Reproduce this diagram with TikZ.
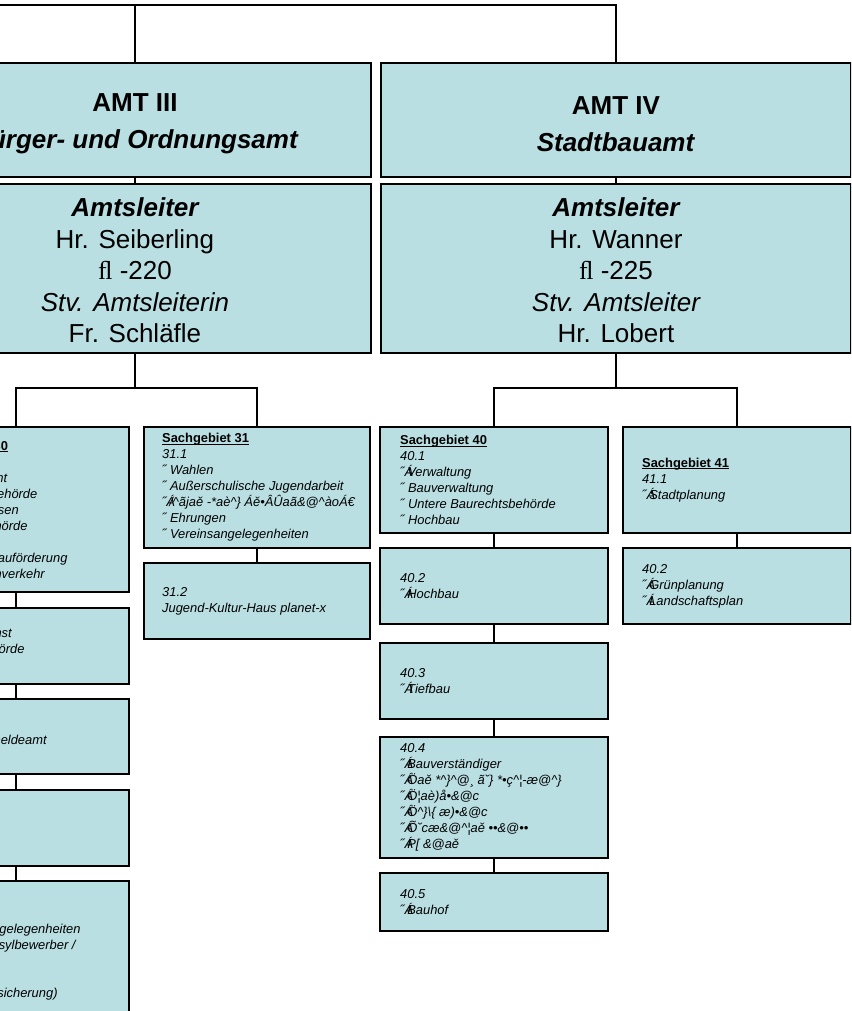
\documentclass[tikz,border=0pt]{standalone}
\usepackage{fontspec}
\setmainfont{Liberation Sans}
\newfontfamily\phonefont{Liberation Serif}
\definecolor{boxfill}{RGB}{186,223,226}
\newcommand\mybul{˝Á\kern-.45em\relax}
\newcommand\sghead[1]{{\upshape\bfseries\setbox0\hbox{#1}\rlap{\rule[-2.2pt]{\wd0}{1.1pt}}\box0}}
\begin{document}
\begin{tikzpicture}[x=1pt,y=-1pt,
  obox/.style={draw=black,line width=1.9pt,fill=boxfill,inner sep=0pt,anchor=north west},
  ln/.style={line width=1.6pt},
  stxt/.style={font=\fontsize{12.9}{16}\selectfont\itshape,align=left,inner sep=0pt,anchor=west},
  btxt/.style={font=\fontsize{26}{31.5}\selectfont,align=center,inner sep=0pt},
  atxt/.style={font=\fontsize{26}{36.5}\selectfont,align=center,inner sep=0pt}]
\useasboundingbox (0,0) rectangle (851,1011);
\begin{scope}
\clip (0,0) rectangle (851,1011);
\fill[white] (0,0) rectangle (851,1011);

% Amt boxes
\node[obox,minimum width=472pt,minimum height=114pt] (amt3) at (-102,62) {};
\node[obox,minimum width=470pt,minimum height=114pt] (amt4) at (380,62) {};
\node[atxt] (amt3t) at ([yshift=-4pt]amt3.center) {\textbf{AMT III}\\\textbf{\textit{Bürger- und Ordnungsamt}}};
\node[atxt] (amt4t) at ([yshift=-4pt]amt4.center) {\textbf{AMT IV}\\\textbf{\textit{Stadtbauamt}}};

% Amtsleiter boxes
\node[obox,minimum width=472pt,minimum height=169pt] (al3) at (-102,183) {};
\node[obox,minimum width=470pt,minimum height=169pt] (al4) at (380,183) {};
\node[btxt] (al3t) at ([yshift=-2pt]al3.center)
  {{\bfseries\itshape Amtsleiter}\\Hr. Seiberling\\{\phonefont ﬂ} -220\\{\itshape Stv. Amtsleiterin}\\Fr. Schläfle};
\node[btxt] (al4t) at ([yshift=-2pt]al4.center)
  {{\bfseries\itshape Amtsleiter}\\Hr. Wanner\\{\phonefont ﬂ} -225\\{\itshape Stv. Amtsleiter}\\Hr. Lobert};

% Sachgebiet 30 column
\node[obox,minimum width=226pt,minimum height=165pt] (b30a) at (-98,426) {};
\node[obox,minimum width=226pt,minimum height=76pt] (b30b) at (-98,607) {};
\node[obox,minimum width=226pt,minimum height=75pt] (b30c) at (-98,698) {};
\node[obox,minimum width=226pt,minimum height=76pt] (b30d) at (-98,789) {};
\node[obox,minimum width=226pt,minimum height=170pt] (b30e) at (-98,880) {};

% Sachgebiet 31 column
\node[obox,minimum width=226pt,minimum height=121pt] (b31) at (143,426) {};
\node[obox,minimum width=226pt,minimum height=76pt] (b312) at (143,562) {};

% Sachgebiet 40 column
\node[obox,minimum width=228pt,minimum height=106pt] (b40) at (379,426) {};
\node[obox,minimum width=228pt,minimum height=76pt] (b402) at (379,547) {};
\node[obox,minimum width=228pt,minimum height=76pt] (b403) at (379,642) {};
\node[obox,minimum width=228pt,minimum height=121pt] (b404) at (379,736) {};
\node[obox,minimum width=228pt,minimum height=58pt] (b405) at (379,872) {};

% Sachgebiet 41 column
\node[obox,minimum width=228pt,minimum height=106pt] (b41) at (622,426) {};
\node[obox,minimum width=228pt,minimum height=76pt] (b41b) at (622,547) {};

% texts
\node[stxt] (t30a) at ([xshift=19pt]b30a.west) {\sghead{Sachgebiet 30}\\\mbox{}\\˝ Ordnungsamt\\˝ Ortspolizeibehörde\\˝ Gewerbewesen\\˝ Verkehrsbehörde\\\mbox{}\\˝ Wohnungsbauförderung\\˝ Taxi/Straßenverkehr};
\node[stxt] (t30b) at ([xshift=19pt]b30b.west) {\mbox{}\\˝ Vollzugsdienst\\˝ Bußgeldbehörde\\\mbox{}};
\node[stxt] (t30c) at ([xshift=19pt]b30c.west) {\mbox{}\\˝ Einwohnermeldeamt};
\node[stxt,anchor=north west] (t30e) at (-81,924) {˝ Ausländerangelegenheiten\\˝ Betreuung Asylbewerber /\\\mbox{}\\\mbox{}\\Rente (Grundsicherung)};

\node[stxt] (t31) at ([xshift=19pt]b31.west) {\sghead{Sachgebiet 31}\\31.1\\˝ Wahlen\\˝ Außerschulische Jugendarbeit\\\mybul/\textasciicircum ãjaě -*aè\textasciicircum\} Áě•ÂÛaã\&@\textasciicircum àoÁ€\\˝ Ehrungen\\˝ Vereinsangelegenheiten};
\node[stxt] (t312) at ([xshift=19pt]b312.west) {31.2\\Jugend-Kultur-Haus planet-x};

\node[stxt] (t40) at ([xshift=21pt]b40.west) {\sghead{Sachgebiet 40}\\40.1\\\mybul Verwaltung\\˝ Bauverwaltung\\˝ Untere Baurechtsbehörde\\˝ Hochbau};
\node[stxt] (t402) at ([xshift=21pt]b402.west) {40.2\\\mybul Hochbau};
\node[stxt] (t403) at ([xshift=21pt]b403.west) {40.3\\\mybul Tiefbau};
\node[stxt] (t404) at ([xshift=21pt]b404.west) {40.4\\\mybul Bauverständiger\\\mybul Öaě *\textasciicircum\}\textasciicircum @¸ ã˘\} *•ç\textasciicircum¦-æ@\textasciicircum\}\\\mybul Ö¦aè)å•\&@c\\\mybul Ö\textasciicircum\}\textbackslash\{ æ)•\&@c\\\mybul Õ˘cæ\&@\textasciicircum¦aě ••\&@••\\\mybul P[ \&@aě};
\node[stxt] (t405) at ([xshift=21pt]b405.west) {40.5\\\mybul Bauhof};

\node[stxt] (t41) at ([xshift=20pt]b41.west) {\sghead{Sachgebiet 41}\\41.1\\\mybul Stadtplanung};
\node[stxt] (t41b) at ([xshift=20pt]b41b.west) {40.2\\\mybul Grünplanung\\\mybul Landschaftsplan};

% connectors
\coordinate (tl) at (-120,5);
\coordinate (h3) at (134,388);
\coordinate (h4) at (615,388);
\draw[line width=1.4pt] (tl) -| (amt4.north);
\draw[line width=1.4pt] (tl -| amt3.north) -- (amt3.north);
\draw[line width=2.6pt] (tl) -- (tl -| amt3.north);
\draw[ln] (amt3.south) -- (al3.north);
\draw[ln] (amt4.south) -- (al4.north);
\draw[ln] (al3.south) -- (al3.south |- h3);
\draw[ln] (b30a.north) |- (h3) -| (b31.north);
\draw[ln] (al4.south) -- (al4.south |- h4);
\draw[ln] (b40.north) |- (h4) -| (b41.north);
\draw[ln] (b30a.south) -- (b30b.north);
\draw[ln] (b30b.south) -- (b30c.north);
\draw[ln] (b30c.south) -- (b30d.north);
\draw[ln] (b30d.south) -- (b30e.north);
\draw[ln] (b31.south) -- (b312.north);
\draw[ln] (b40.south) -- (b402.north);
\draw[ln] (b402.south) -- (b403.north);
\draw[ln] (b403.south) -- (b404.north);
\draw[ln] (b404.south) -- (b405.north);
\draw[ln] (b41.south) -- (b41b.north);
\end{scope}
\end{tikzpicture}
\end{document}
